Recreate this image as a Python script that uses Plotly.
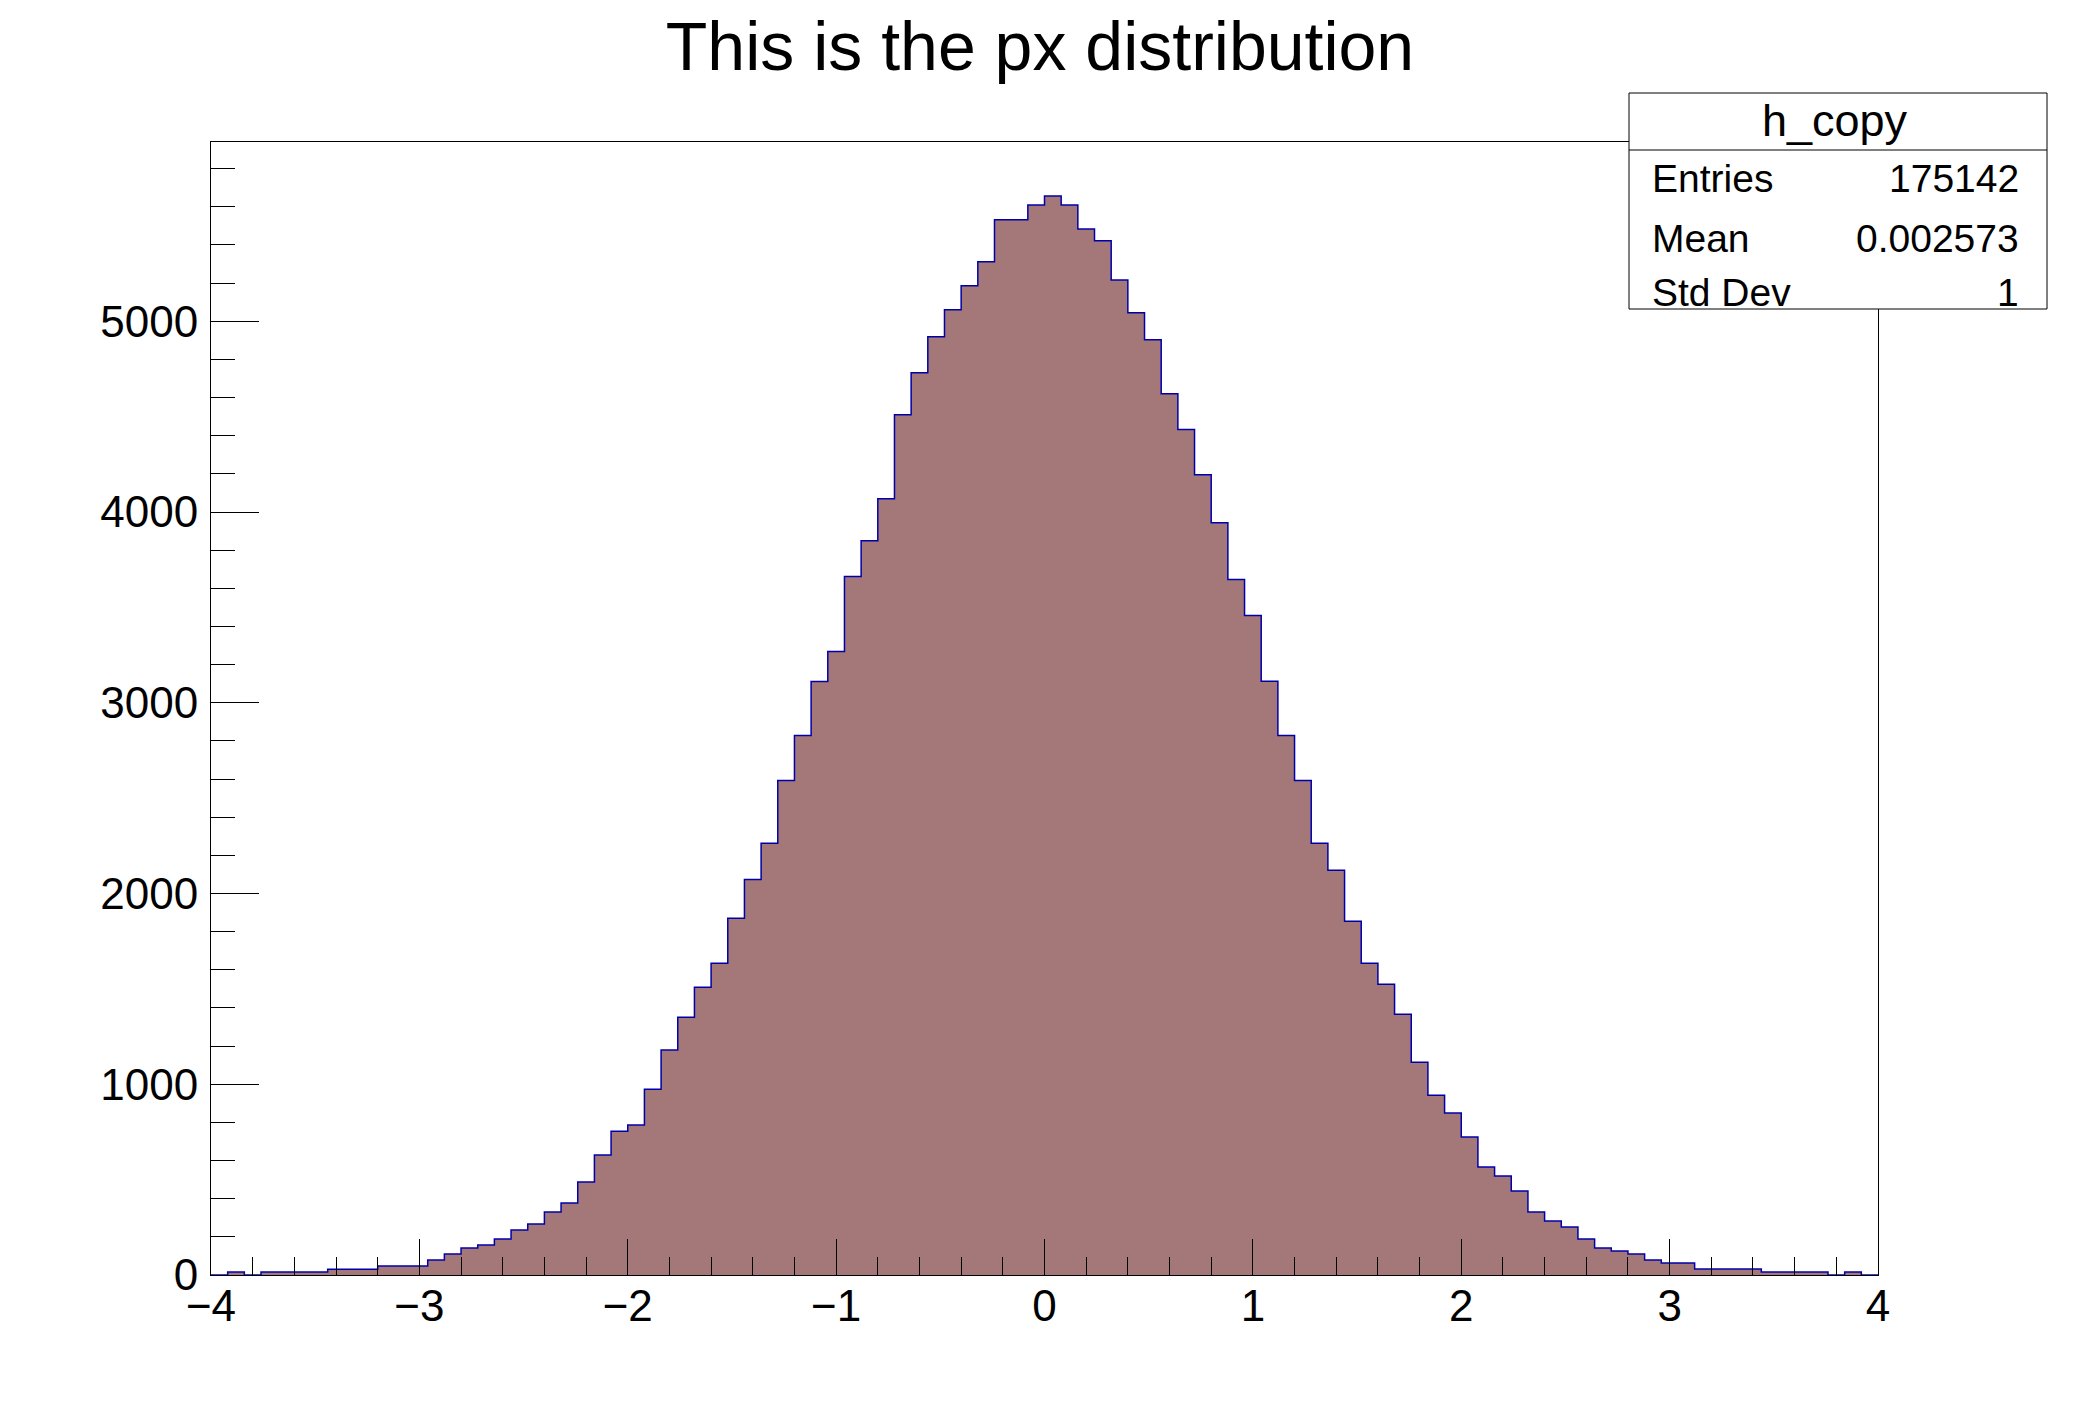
import numpy as np
import plotly.graph_objects as go

# histogram contents, 100 bins from -4 to 4
counts = [
    0, 16, 0, 16, 16, 16, 16, 30, 30, 30,
    47, 47, 47, 79, 110, 141, 157, 189, 236, 267,
    330, 377, 487, 629, 754, 786, 974, 1179, 1351, 1509,
    1634, 1870, 2074, 2263, 2593, 2829, 3112, 3269, 3662, 3850,
    4070, 4510, 4730, 4919, 5060, 5186, 5312, 5532, 5532, 5610,
    5657, 5610, 5484, 5422, 5217, 5045, 4903, 4620, 4432, 4196,
    3944, 3646, 3457, 3113, 2829, 2593, 2263, 2122, 1854, 1634,
    1524, 1367, 1116, 943, 849, 723, 566, 519, 440, 330,
    283, 251, 189, 141, 126, 110, 79, 63, 63, 31,
    31, 31, 31, 16, 16, 16, 16, 0, 16, 0,
]
x_min, x_max = -4.0, 4.0

title_text = "This is the px distribution"
stats_name = "h_copy"
stats_labels = ["Entries", "Mean", "Std Dev"]
stats_values = ["175142", "0.002573", "1"]

FONT = "Liberation Sans, Arial, Helvetica, sans-serif"
FILL = "#a47878"
LINE = "#0000aa"

# the page body has an 8px margin, so everything is laid out 8px up/left
OFF = 8
W, H = 2088 - OFF, 1416 - OFF
L, R, T, B = 211 - OFF, 1878 - OFF, 142 - OFF, 1275 - OFF


def px(x):
    # x in page pixels -> paper fraction
    return (x - OFF - L) / (R - L)


def py(y):
    return (B - (y - OFF)) / (B - T)


edges = np.linspace(x_min, x_max, len(counts) + 1)
step_y = counts + [counts[-1]]

fig = go.Figure()

# filled histogram with step outline
fig.add_trace(go.Scatter(
    x=edges,
    y=step_y,
    mode="lines",
    line=dict(shape="hv", color=LINE, width=1.5),
    fill="tozeroy",
    fillcolor=FILL,
    hoverinfo="skip",
    showlegend=False,
))

axis_font = dict(family=FONT, size=44, color="black")

fig.update_xaxes(
    range=[x_min, x_max],
    tickmode="linear", tick0=0, dtick=1,
    ticks="inside", ticklen=36, tickwidth=1, tickcolor="black",
    minor=dict(ticks="inside", ticklen=18, tickwidth=1, tickcolor="black",
               tick0=0, dtick=0.2, showgrid=False),
    showline=True, linecolor="black", linewidth=1, mirror=True,
    showgrid=False, zeroline=False,
    tickfont=axis_font, ticklabelstandoff=-8,
)
fig.update_yaxes(
    range=[0, max(counts) * 1.05],
    tickmode="linear", tick0=0, dtick=1000, tickformat="d",
    ticks="inside", ticklen=48, tickwidth=1, tickcolor="black",
    minor=dict(ticks="inside", ticklen=24, tickwidth=1, tickcolor="black",
               tick0=0, dtick=200, showgrid=False),
    showline=True, linecolor="black", linewidth=1, mirror=True,
    showgrid=False, zeroline=False,
    tickfont=axis_font, ticklabelstandoff=3,
)

# stats box
fig.add_shape(type="rect", xref="paper", yref="paper",
              x0=px(1629), x1=px(2047), y0=py(309), y1=py(93),
              fillcolor="white", line=dict(color="black", width=1), layer="above")
fig.add_shape(type="line", xref="paper", yref="paper",
              x0=px(1629), x1=px(2047), y0=py(150), y1=py(150),
              line=dict(color="black", width=1), layer="above")

fig.add_annotation(xref="paper", yref="paper", x=px(1835), y=py(120),
                   text=stats_name, showarrow=False, xanchor="center", yanchor="middle",
                   font=dict(family=FONT, size=45, color="black"))
row_y = [179, 238, 292]
for lab, val, yy in zip(stats_labels, stats_values, row_y):
    fig.add_annotation(xref="paper", yref="paper", x=px(1650), y=py(yy),
                       text=lab, showarrow=False, xanchor="left", yanchor="middle",
                       font=dict(family=FONT, size=39, color="black"))
    fig.add_annotation(xref="paper", yref="paper", x=px(2021), y=py(yy),
                       text=val, showarrow=False, xanchor="right", yanchor="middle",
                       font=dict(family=FONT, size=39, color="black"))

fig.update_layout(
    width=W, height=H,
    margin=dict(l=L, r=W - R, t=T, b=H - B),
    paper_bgcolor="white", plot_bgcolor="white",
    title=dict(text=title_text, x=(1040 - OFF) / W, xref="container", xanchor="center",
               y=1 - (46 - OFF) / H, yanchor="middle",
               font=dict(family=FONT, size=68, color="black")),
    showlegend=False,
)

fig.write_html("out.html")
